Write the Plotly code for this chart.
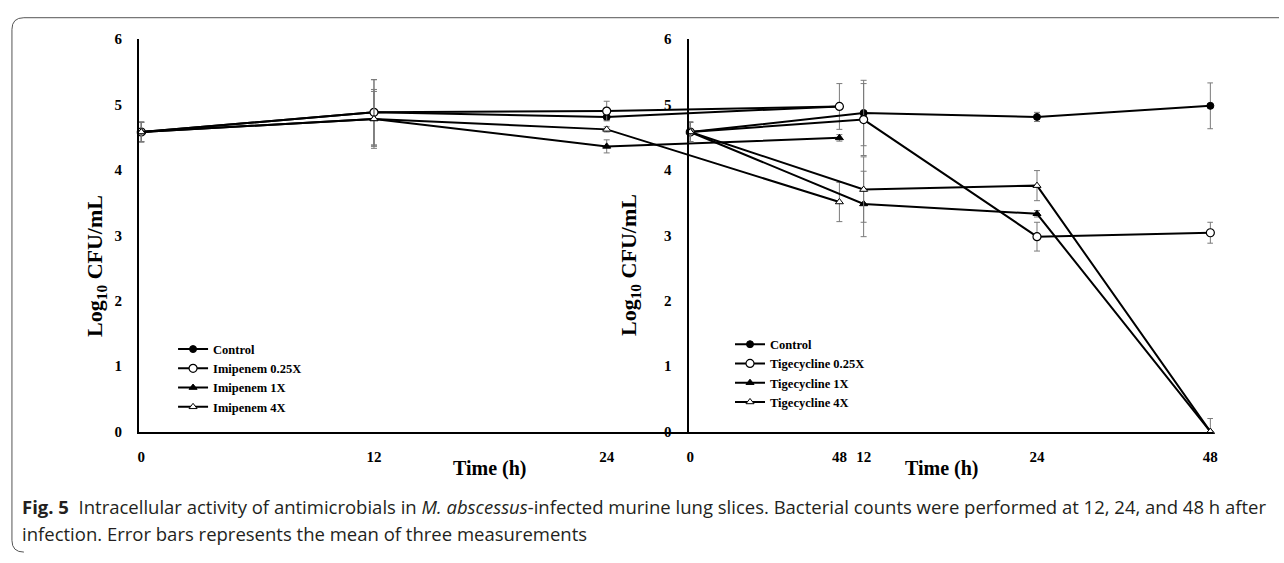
import plotly.graph_objects as go

W, H = 1284, 563

time_labels = ["0", "12", "24", "48"]

# Left panel (Imipenem)
imi_names = ["Control", "Imipenem 0.25X", "Imipenem 1X", "Imipenem 4X"]
imi_control = [4.58, 4.88, 4.81, 4.97]
imi_025 = [4.58, 4.88, 4.90, 4.97]
imi_1x = [4.58, 4.78, 4.36, 4.49]
imi_4x = [4.58, 4.78, 4.62, 3.51]
imi_control_err = [0.15, 0.50, 0.05, 0.04]
imi_025_err = [0.15, 0.50, 0.15, 0.35]
imi_1x_err = [0.15, 0.45, 0.10, 0.05]
imi_4x_err = [0.15, 0.42, 0.04, 0.30]

# Right panel (Tigecycline)
tig_names = ["Control", "Tigecycline 0.25X", "Tigecycline 1X", "Tigecycline 4X"]
tig_control = [4.58, 4.87, 4.81, 4.98]
tig_025 = [4.58, 4.77, 2.98, 3.04]
tig_1x = [4.58, 3.48, 3.33, 0.0]
tig_4x = [4.58, 3.70, 3.76, 0.0]
tig_control_err = [0.15, 0.50, 0.07, 0.35]
tig_025_err = [0.15, 0.55, 0.22, 0.16]
tig_1x_err = [0.15, 0.50, 0.05, 0.0]
tig_4x_err = [0.15, 0.50, 0.23, 0.20]
tig_4x_err_minus = [0.15, 0.50, 0.23, 0.0]

styles = [
    dict(symbol="circle", size=7, color="black", line=dict(color="black", width=1)),
    dict(symbol="circle", size=8, color="white", line=dict(color="black", width=1.2)),
    dict(symbol="triangle-up", size=7, color="black", line=dict(color="black", width=1)),
    dict(symbol="triangle-up", size=7, color="white", line=dict(color="black", width=1)),
]

fig = go.Figure()

def add_series(names, values, errs, errs_minus, xa, ya, legend):
    for i, (n, v, e, em) in enumerate(zip(names, values, errs, errs_minus)):
        fig.add_trace(go.Scatter(
            x=time_labels, y=v, name=n, mode="lines+markers",
            xaxis=xa, yaxis=ya, legend=legend,
            line=dict(color="black", width=2),
            marker=styles[i],
            cliponaxis=False,
            error_y=dict(type="data", array=e, arrayminus=em, symmetric=False,
                         color="#7a7a7a", thickness=1, width=3),
        ))

add_series(imi_names, [imi_control, imi_025, imi_1x, imi_4x],
           [imi_control_err, imi_025_err, imi_1x_err, imi_4x_err],
           [imi_control_err, imi_025_err, imi_1x_err, imi_4x_err],
           "x", "y", "legend")
add_series(tig_names, [tig_control, tig_025, tig_1x, tig_4x],
           [tig_control_err, tig_025_err, tig_1x_err, tig_4x_err],
           [tig_control_err, tig_025_err, tig_1x_err, tig_4x_err_minus],
           "x2", "y2", "legend2")

def px(x):
    return x / W

def py(y):
    return 1 - y / H

tickfont = dict(family="Liberation Serif", size=15, color="black", weight="bold")
axis_common = dict(showline=True, linecolor="black", linewidth=2, showgrid=False,
                   zeroline=False, ticks="", tickfont=tickfont, fixedrange=True)

y_dom = [py(436), py(32)]
legend_font = dict(family="Liberation Serif", size=12.5, color="black", weight="bold")

fig.update_layout(
    width=W, height=H,
    margin=dict(l=0, r=0, t=0, b=0),
    paper_bgcolor="white", plot_bgcolor="rgba(0,0,0,0)",
    xaxis=dict(domain=[px(137.7), px(845.5)], type="category", range=[-0.01, 3.015],
               anchor="y", ticklabelstandoff=10, **axis_common),
    yaxis=dict(domain=y_dom, range=[0, 6], dtick=1, anchor="x",
               ticklabelstandoff=12, **axis_common),
    xaxis2=dict(domain=[px(690.3), px(1217.6)], type="category", range=[-0.01, 3.015],
                anchor="y2", ticklabelstandoff=10, **axis_common),
    yaxis2=dict(domain=y_dom, range=[0, 6], dtick=1, anchor="x2",
                ticklabelstandoff=12, **axis_common),
    legend=dict(x=px(172), y=py(336), xanchor="left", yanchor="top",
                bgcolor="rgba(0,0,0,0)", itemwidth=30, tracegroupgap=0,
                font=legend_font),
    legend2=dict(x=px(732), y=py(331), xanchor="left", yanchor="top",
                 bgcolor="rgba(0,0,0,0)", itemwidth=30, tracegroupgap=0,
                 font=legend_font),
    showlegend=True,
)

title_font = dict(family="Liberation Serif", size=22, color="black")
xt_font = dict(family="Liberation Serif", size=20, color="black")
cap_font = dict(family="Open Sans", size=18.5, color="#231f20")
common_ann = dict(showarrow=False, xref="paper", yref="paper",
                  xanchor="center", yanchor="middle")
annotations = [
    dict(text="<b>Log<sub>10</sub> CFU/mL</b>", x=px(95), y=py(265), textangle=-90,
         font=title_font, **common_ann),
    dict(text="<b>Log<sub>10</sub> CFU/mL</b>", x=px(632), y=py(265), textangle=-90,
         font=title_font, **common_ann),
    dict(text="<b>Time (h)</b>", x=px(491), y=py(474), font=xt_font, **common_ann),
    dict(text="<b>Time (h)</b>", x=px(945), y=py(474), font=xt_font, **common_ann),
]
annotations += [
    dict(text="<b>Fig. 5</b>  Intracellular activity of antimicrobials in <i>M. abscessus</i>-infected murine lung slices. "
              "Bacterial counts were performed at 12, 24, and 48 h after",
         x=px(18), y=py(513), xanchor="left", yanchor="middle", align="left", showarrow=False,
         xref="paper", yref="paper", font=cap_font),
    dict(text="infection. Error bars represents the mean of three measurements",
         x=px(18), y=py(541), xanchor="left", yanchor="middle", align="left", showarrow=False,
         xref="paper", yref="paper", font=cap_font),
]
fig.update_layout(annotations=annotations)

border = "M {},{} L {},{} Q {},{} {},{} L {},{} Q {},{} {},{}".format(
    px(1284), py(10), px(22), py(10), px(10), py(10), px(10), py(22),
    px(10), py(548), px(10), py(560), px(22), py(560))
fig.add_shape(type="path", path=border, xref="paper", yref="paper",
              line=dict(color="#555", width=1))

fig.write_html(
    "out.html",
    config={"displayModeBar": False},
    post_script=("document.body.style.margin='0';"
                 "document.documentElement.style.overflow='hidden';"
                 "var gd=document.getElementById('{plot_id}');"
                 "gd.style.position='fixed';gd.style.top='0px';gd.style.left='0px';"),
)
